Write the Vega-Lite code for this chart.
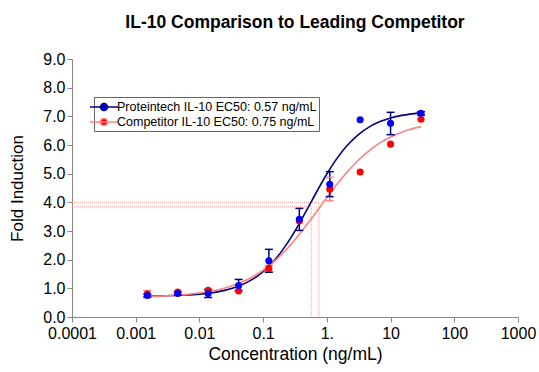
{
  "$schema": "https://vega.github.io/schema/vega-lite/v6.json",
  "autosize": {"type": "none"},
  "width": 446,
  "height": 258,
  "padding": {"left": 72, "top": 59, "right": 21, "bottom": 55},
  "background": "white",
  "title": {"text": "IL-10 Comparison to Leading Competitor", "fontSize": 17.5, "fontWeight": "bold", "font": "Liberation Sans", "color": "black", "offset": 20},
  "config": {
    "font": "Liberation Sans",
    "view": {"stroke": null},
    "axis": {"grid": false, "labelFontSize": 16, "titleFontSize": 17.5, "titleFontWeight": "normal", "labelColor": "black", "titleColor": "black", "domainColor": "#888888", "tickColor": "#888888", "tickSize": 5, "labelOverlap": false, "labelFlush": false}
  },
  "datasets": {
    "curves": [
      {"conc": 0.0015, "fold": 0.730, "series": "Proteintech IL-10 EC50: 0.57 ng/mL"},
      {"conc": 0.003, "fold": 0.741, "series": "Proteintech IL-10 EC50: 0.57 ng/mL"},
      {"conc": 0.006, "fold": 0.765, "series": "Proteintech IL-10 EC50: 0.57 ng/mL"},
      {"conc": 0.01, "fold": 0.798, "series": "Proteintech IL-10 EC50: 0.57 ng/mL"},
      {"conc": 0.02, "fold": 0.885, "series": "Proteintech IL-10 EC50: 0.57 ng/mL"},
      {"conc": 0.04, "fold": 1.063, "series": "Proteintech IL-10 EC50: 0.57 ng/mL"},
      {"conc": 0.07, "fold": 1.328, "series": "Proteintech IL-10 EC50: 0.57 ng/mL"},
      {"conc": 0.1, "fold": 1.581, "series": "Proteintech IL-10 EC50: 0.57 ng/mL"},
      {"conc": 0.15, "fold": 1.973, "series": "Proteintech IL-10 EC50: 0.57 ng/mL"},
      {"conc": 0.2, "fold": 2.324, "series": "Proteintech IL-10 EC50: 0.57 ng/mL"},
      {"conc": 0.3, "fold": 2.918, "series": "Proteintech IL-10 EC50: 0.57 ng/mL"},
      {"conc": 0.4, "fold": 3.399, "series": "Proteintech IL-10 EC50: 0.57 ng/mL"},
      {"conc": 0.5, "fold": 3.791, "series": "Proteintech IL-10 EC50: 0.57 ng/mL"},
      {"conc": 0.7, "fold": 4.387, "series": "Proteintech IL-10 EC50: 0.57 ng/mL"},
      {"conc": 1, "fold": 4.989, "series": "Proteintech IL-10 EC50: 0.57 ng/mL"},
      {"conc": 1.5, "fold": 5.585, "series": "Proteintech IL-10 EC50: 0.57 ng/mL"},
      {"conc": 2, "fold": 5.937, "series": "Proteintech IL-10 EC50: 0.57 ng/mL"},
      {"conc": 3, "fold": 6.330, "series": "Proteintech IL-10 EC50: 0.57 ng/mL"},
      {"conc": 5, "fold": 6.675, "series": "Proteintech IL-10 EC50: 0.57 ng/mL"},
      {"conc": 7, "fold": 6.828, "series": "Proteintech IL-10 EC50: 0.57 ng/mL"},
      {"conc": 10, "fold": 6.944, "series": "Proteintech IL-10 EC50: 0.57 ng/mL"},
      {"conc": 15, "fold": 7.033, "series": "Proteintech IL-10 EC50: 0.57 ng/mL"},
      {"conc": 20, "fold": 7.078, "series": "Proteintech IL-10 EC50: 0.57 ng/mL"},
      {"conc": 30, "fold": 7.121, "series": "Proteintech IL-10 EC50: 0.57 ng/mL"},
      {"conc": 0.0015, "fold": 0.711, "series": "Competitor IL-10 EC50: 0.75 ng/mL"},
      {"conc": 0.003, "fold": 0.736, "series": "Competitor IL-10 EC50: 0.75 ng/mL"},
      {"conc": 0.006, "fold": 0.781, "series": "Competitor IL-10 EC50: 0.75 ng/mL"},
      {"conc": 0.01, "fold": 0.835, "series": "Competitor IL-10 EC50: 0.75 ng/mL"},
      {"conc": 0.02, "fold": 0.953, "series": "Competitor IL-10 EC50: 0.75 ng/mL"},
      {"conc": 0.04, "fold": 1.156, "series": "Competitor IL-10 EC50: 0.75 ng/mL"},
      {"conc": 0.07, "fold": 1.411, "series": "Competitor IL-10 EC50: 0.75 ng/mL"},
      {"conc": 0.1, "fold": 1.630, "series": "Competitor IL-10 EC50: 0.75 ng/mL"},
      {"conc": 0.15, "fold": 1.942, "series": "Competitor IL-10 EC50: 0.75 ng/mL"},
      {"conc": 0.2, "fold": 2.206, "series": "Competitor IL-10 EC50: 0.75 ng/mL"},
      {"conc": 0.3, "fold": 2.637, "series": "Competitor IL-10 EC50: 0.75 ng/mL"},
      {"conc": 0.4, "fold": 2.979, "series": "Competitor IL-10 EC50: 0.75 ng/mL"},
      {"conc": 0.5, "fold": 3.259, "series": "Competitor IL-10 EC50: 0.75 ng/mL"},
      {"conc": 0.7, "fold": 3.699, "series": "Competitor IL-10 EC50: 0.75 ng/mL"},
      {"conc": 1, "fold": 4.168, "series": "Competitor IL-10 EC50: 0.75 ng/mL"},
      {"conc": 1.5, "fold": 4.680, "series": "Competitor IL-10 EC50: 0.75 ng/mL"},
      {"conc": 2, "fold": 5.017, "series": "Competitor IL-10 EC50: 0.75 ng/mL"},
      {"conc": 3, "fold": 5.435, "series": "Competitor IL-10 EC50: 0.75 ng/mL"},
      {"conc": 5, "fold": 5.866, "series": "Competitor IL-10 EC50: 0.75 ng/mL"},
      {"conc": 7, "fold": 6.090, "series": "Competitor IL-10 EC50: 0.75 ng/mL"},
      {"conc": 10, "fold": 6.281, "series": "Competitor IL-10 EC50: 0.75 ng/mL"},
      {"conc": 15, "fold": 6.448, "series": "Competitor IL-10 EC50: 0.75 ng/mL"},
      {"conc": 20, "fold": 6.540, "series": "Competitor IL-10 EC50: 0.75 ng/mL"},
      {"conc": 30, "fold": 6.641, "series": "Competitor IL-10 EC50: 0.75 ng/mL"}
    ],
    "points": [
      {"conc": 0.00152, "fold": 0.80, "series": "Competitor IL-10 EC50: 0.75 ng/mL"},
      {"conc": 0.00457, "fold": 0.87, "series": "Competitor IL-10 EC50: 0.75 ng/mL"},
      {"conc": 0.0137, "fold": 0.93, "series": "Competitor IL-10 EC50: 0.75 ng/mL"},
      {"conc": 0.0412, "fold": 0.91, "series": "Competitor IL-10 EC50: 0.75 ng/mL"},
      {"conc": 0.123, "fold": 1.70, "series": "Competitor IL-10 EC50: 0.75 ng/mL"},
      {"conc": 0.37, "fold": 3.35, "series": "Competitor IL-10 EC50: 0.75 ng/mL"},
      {"conc": 1.11, "fold": 4.46, "series": "Competitor IL-10 EC50: 0.75 ng/mL"},
      {"conc": 3.33, "fold": 5.06, "series": "Competitor IL-10 EC50: 0.75 ng/mL"},
      {"conc": 10, "fold": 6.03, "series": "Competitor IL-10 EC50: 0.75 ng/mL"},
      {"conc": 30, "fold": 6.90, "series": "Competitor IL-10 EC50: 0.75 ng/mL"},
      {"conc": 0.00152, "fold": 0.75, "series": "Proteintech IL-10 EC50: 0.57 ng/mL"},
      {"conc": 0.00457, "fold": 0.82, "series": "Proteintech IL-10 EC50: 0.57 ng/mL"},
      {"conc": 0.0137, "fold": 0.82, "series": "Proteintech IL-10 EC50: 0.57 ng/mL"},
      {"conc": 0.0412, "fold": 1.10, "series": "Proteintech IL-10 EC50: 0.57 ng/mL"},
      {"conc": 0.123, "fold": 1.96, "series": "Proteintech IL-10 EC50: 0.57 ng/mL"},
      {"conc": 0.37, "fold": 3.41, "series": "Proteintech IL-10 EC50: 0.57 ng/mL"},
      {"conc": 1.11, "fold": 4.63, "series": "Proteintech IL-10 EC50: 0.57 ng/mL"},
      {"conc": 3.33, "fold": 6.88, "series": "Proteintech IL-10 EC50: 0.57 ng/mL"},
      {"conc": 10, "fold": 6.76, "series": "Proteintech IL-10 EC50: 0.57 ng/mL"},
      {"conc": 30, "fold": 7.11, "series": "Proteintech IL-10 EC50: 0.57 ng/mL"}
    ],
    "errors": [
      {"conc": 0.00152, "lo": 0.68, "hi": 0.92, "series": "Competitor IL-10 EC50: 0.75 ng/mL"},
      {"conc": 0.123, "lo": 1.60, "hi": 1.80, "series": "Competitor IL-10 EC50: 0.75 ng/mL"},
      {"conc": 1.11, "lo": 4.05, "hi": 4.87, "series": "Competitor IL-10 EC50: 0.75 ng/mL"},
      {"conc": 0.00152, "lo": 0.70, "hi": 0.80, "series": "Proteintech IL-10 EC50: 0.57 ng/mL"},
      {"conc": 0.00457, "lo": 0.76, "hi": 0.88, "series": "Proteintech IL-10 EC50: 0.57 ng/mL"},
      {"conc": 0.0137, "lo": 0.68, "hi": 0.96, "series": "Proteintech IL-10 EC50: 0.57 ng/mL"},
      {"conc": 0.0412, "lo": 0.92, "hi": 1.31, "series": "Proteintech IL-10 EC50: 0.57 ng/mL"},
      {"conc": 0.123, "lo": 1.56, "hi": 2.36, "series": "Proteintech IL-10 EC50: 0.57 ng/mL"},
      {"conc": 0.37, "lo": 3.02, "hi": 3.79, "series": "Proteintech IL-10 EC50: 0.57 ng/mL"},
      {"conc": 1.11, "lo": 4.20, "hi": 5.07, "series": "Proteintech IL-10 EC50: 0.57 ng/mL"},
      {"conc": 10, "lo": 6.36, "hi": 7.14, "series": "Proteintech IL-10 EC50: 0.57 ng/mL"},
      {"conc": 30, "lo": 7.04, "hi": 7.16, "series": "Proteintech IL-10 EC50: 0.57 ng/mL"}
    ],
    "refs": [
      {"x": 0.0001, "x2": 0.57, "y": 3.85, "y2": 3.85},
      {"x": 0.0001, "x2": 0.75, "y": 4.0, "y2": 4.0},
      {"x": 0.57, "x2": 0.57, "y": 0, "y2": 3.85},
      {"x": 0.75, "x2": 0.75, "y": 0, "y2": 4.0}
    ]
  },
  "encoding": {
    "x": {"type": "quantitative", "scale": {"type": "log", "domain": [0.0001, 1000]},
          "axis": {"title": "Concentration (ng/mL)", "values": [0.0001, 0.001, 0.01, 0.1, 1, 10, 100, 1000], "labelExpr": "datum.value == 1 ? '1.' : '' + datum.value", "labelPadding": 3, "titlePadding": 4, "labelOverlap": false, "labelFlush": false}},
    "y": {"type": "quantitative", "scale": {"domain": [0, 9], "nice": false},
          "axis": {"title": "Fold Induction", "titleFontSize": 17, "values": [0, 1, 2, 3, 4, 5, 6, 7, 8, 9], "labelExpr": "format(datum.value, '.1f')", "labelPadding": 2, "titlePadding": 16, "labelOverlap": false, "labelSeparation": -40, "labelFlush": false, "labelBound": false}}
  },
  "layer": [
    {
      "data": {"name": "refs"},
      "mark": {"type": "rule", "color": "#ff9a9a", "strokeWidth": 1, "strokeDash": [1, 1], "opacity": 0.9},
      "encoding": {
        "x": {"field": "x"},
        "x2": {"field": "x2"},
        "y": {"field": "y"},
        "y2": {"field": "y2"}
      }
    },
    {
      "data": {"name": "curves"},
      "mark": {"type": "line", "interpolate": "monotone", "strokeWidth": 1.6},
      "encoding": {
        "x": {"field": "conc"},
        "y": {"field": "fold"},
        "stroke": {"field": "series", "type": "nominal",
          "scale": {"domain": ["Proteintech IL-10 EC50: 0.57 ng/mL", "Competitor IL-10 EC50: 0.75 ng/mL"], "range": ["#00007f", "#ff8080"]},
          "legend": {"title": null, "orient": "none", "legendX": 22, "legendY": 38, "symbolType": "M-2,0H2M-0.5,0a0.5,0.5 0 1,0 1,0a0.5,0.5 0 1,0 -1,0", "symbolSize": 196, "symbolStrokeWidth": 1.5, "labelFontSize": 12.5, "labelLimit": 400, "labelColor": "black", "labelOffset": 5, "strokeColor": "#666666", "fillColor": "white", "padding": 2, "rowPadding": 0, "symbolOpacity": 1}}
      }
    },
    {
      "data": {"name": "errors"},
      "mark": {"type": "rule", "strokeWidth": 1.5},
      "encoding": {
        "x": {"field": "conc"},
        "y": {"field": "lo"},
        "y2": {"field": "hi"},
        "stroke": {"field": "series", "type": "nominal"}
      }
    },
    {
      "data": {"name": "errors"},
      "mark": {"type": "rule", "strokeWidth": 1.5, "xOffset": -4, "x2Offset": 4},
      "encoding": {
        "x": {"field": "conc"},
        "x2": {"field": "conc"},
        "y": {"field": "lo"},
        "stroke": {"field": "series", "type": "nominal"}
      }
    },
    {
      "data": {"name": "errors"},
      "mark": {"type": "rule", "strokeWidth": 1.5, "xOffset": -4, "x2Offset": 4},
      "encoding": {
        "x": {"field": "conc"},
        "x2": {"field": "conc"},
        "y": {"field": "hi"},
        "stroke": {"field": "series", "type": "nominal"}
      }
    },
    {
      "data": {"name": "points"},
      "mark": {"type": "point", "filled": true, "size": 50, "opacity": 1},
      "encoding": {
        "x": {"field": "conc"},
        "y": {"field": "fold"},
        "fill": {"field": "series", "type": "nominal",
          "scale": {"domain": ["Proteintech IL-10 EC50: 0.57 ng/mL", "Competitor IL-10 EC50: 0.75 ng/mL"], "range": ["#0000ff", "#ff0000"]},
          "legend": {"title": null, "orient": "none", "legendX": 22, "legendY": 38, "symbolType": "M-2,0H2M-0.5,0a0.5,0.5 0 1,0 1,0a0.5,0.5 0 1,0 -1,0", "symbolSize": 196, "symbolStrokeWidth": 1.5, "labelFontSize": 12.5, "labelLimit": 400, "labelColor": "black", "labelOffset": 5, "strokeColor": "#666666", "fillColor": "white", "padding": 2, "rowPadding": 0, "symbolOpacity": 1}}
      }
    }
  ]
}
